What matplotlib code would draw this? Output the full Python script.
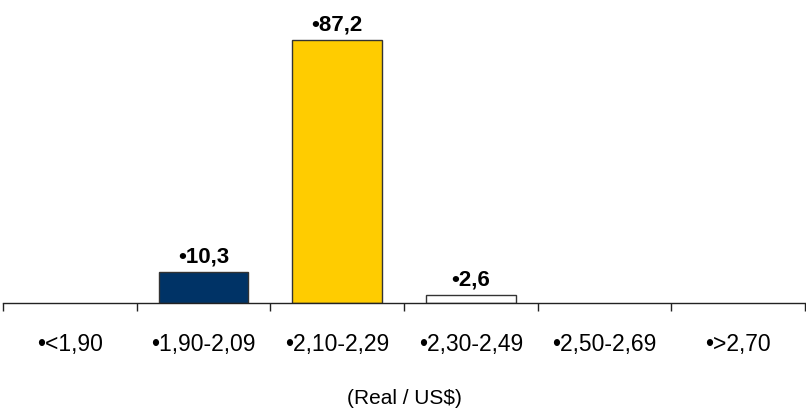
import matplotlib
matplotlib.use("Agg")
import matplotlib.pyplot as plt
import numpy as np

plt.rcParams['font.family'] = ['Liberation Sans', 'DejaVu Sans']

# Price ranges (Real / US$) and share of forecasts in each range
categories = ["<1,90", "1,90-2,09", "2,10-2,29", "2,30-2,49", "2,50-2,69", ">2,70"]
values = [0, 10.3, 87.2, 2.6, 0, 0]
bar_colors = ["#FFFFFF", "#003366", "#FFCC00", "#FFFFFF", "#FFFFFF", "#FFFFFF"]
x_label = "(Real / US$)"

fig = plt.figure(figsize=(8.06, 4.10), dpi=100)
ax = fig.add_axes([3 / 806, 1 - 304 / 410, 802 / 806, 301.6 / 410])

x = np.arange(len(categories))
for xi, v, c in zip(x, values, bar_colors):
    if v <= 0:
        continue
    ax.bar(xi, v, width=0.67, color=c, edgecolor="#333333", linewidth=1.0, zorder=2)
    ax.annotate("\u2022" + f"{v:.1f}".replace(".", ","), (xi, v),
                xytext=(0, 7.5), textcoords="offset points",
                ha="center", va="baseline", fontsize=16, fontweight="bold")

ax.set_xlim(-0.5, len(categories) - 0.5)
ax.set_ylim(0, 100)

# Category labels at centres, tick marks at the boundaries
ax.set_xticks(x)
ax.set_xticklabels(["\u2022" + c for c in categories], fontsize=16.5)
ax.tick_params(axis="x", which="major", length=0, pad=21)
ax.set_xticks(np.arange(len(categories) + 1) - 0.5, minor=True)
ax.tick_params(axis="x", which="minor", length=6, width=1, color="#222222", direction="out")

ax.set_xlabel(x_label, fontsize=15, labelpad=24)

ax.set_yticks([])
for s in ["top", "right", "left"]:
    ax.spines[s].set_visible(False)
ax.spines["bottom"].set_color("#222222")
ax.spines["bottom"].set_linewidth(1.0)
ax.patch.set_alpha(0)

fig.savefig("out.png", dpi=100)
